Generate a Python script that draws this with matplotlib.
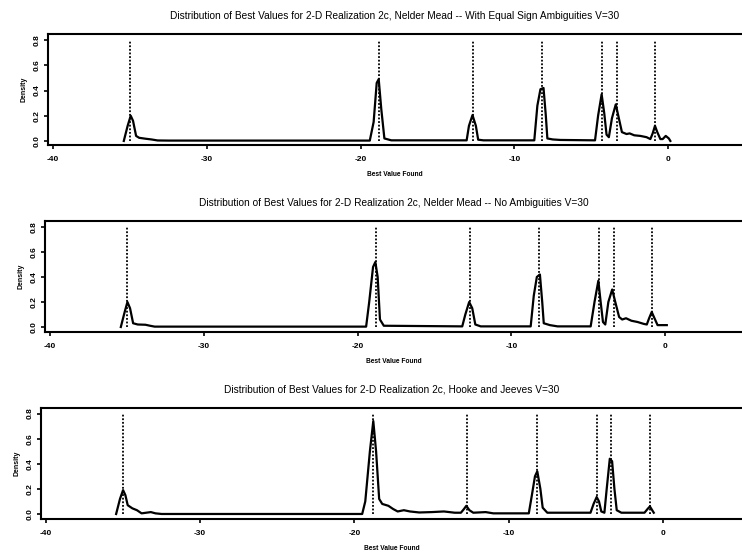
import matplotlib
matplotlib.use("Agg")
import matplotlib.pyplot as plt

plt.rcParams["font.family"] = ["Liberation Sans", "DejaVu Sans"]

# local minima of the objective (dotted lines), same for all three runs
minima = [-35.0, -18.8, -12.7, -8.2, -4.3, -3.35, -0.85]
line_top = 0.8

titles = [
    "Distribution of Best Values for 2-D Realization 2c, Nelder Mead -- With Equal Sign Ambiguities V=30",
    "Distribution of Best Values for 2-D Realization 2c, Nelder Mead -- No Ambiguities V=30",
    "Distribution of Best Values for 2-D Realization 2c, Hooke and Jeeves V=30",
]

# density curve, Nelder Mead with equal sign ambiguities
nm_eq_x = [-35.4, -35.15, -34.95, -34.8, -34.6, -34.4, -34.0, -33.6, -33.2, -32.5,
           -19.4, -19.15, -18.95, -18.82, -18.65, -18.45, -18.0,
           -13.1, -12.95, -12.72, -12.5, -12.35, -12.0,
           -8.7, -8.5, -8.3, -8.1, -7.95, -7.85, -7.5, -7.0,
           -4.75, -4.55, -4.32, -4.15, -4.0, -3.85, -3.65, -3.4, -3.2, -3.0,
           -2.7, -2.5, -2.2, -1.8, -1.4, -1.15, -1.0, -0.85, -0.7, -0.5,
           -0.35, -0.15, 0.05, 0.15]
nm_eq_y = [0.0, 0.12, 0.20, 0.16, 0.04, 0.025, 0.018, 0.012, 0.004, 0.003,
           0.003, 0.15, 0.46, 0.49, 0.25, 0.02, 0.005,
           0.005, 0.12, 0.205, 0.12, 0.01, 0.005,
           0.005, 0.28, 0.41, 0.42, 0.20, 0.02, 0.012, 0.008,
           0.005, 0.2, 0.37, 0.22, 0.05, 0.03, 0.18, 0.29, 0.18, 0.07,
           0.055, 0.06, 0.045, 0.04, 0.03, 0.015, 0.06, 0.12, 0.07, 0.015,
           0.015, 0.04, 0.02, 0.0]

# density curve, Nelder Mead no ambiguities
nm_no_x = [-35.4, -35.15, -34.97, -34.8, -34.6, -34.3, -33.8, -33.5, -33.2,
           -19.45, -19.25, -19.0, -18.85, -18.7, -18.55, -18.3,
           -13.2, -13.0, -12.75, -12.55, -12.35, -12.0,
           -8.75, -8.55, -8.35, -8.15, -8.0, -7.9, -7.5, -7.0,
           -4.85, -4.6, -4.35, -4.2, -4.05, -3.9, -3.7, -3.45, -3.25, -3.0,
           -2.8, -2.55, -2.2, -1.8, -1.4, -1.2, -1.05, -0.88, -0.7, -0.5, 0.1]
nm_no_y = [0.0, 0.12, 0.20, 0.15, 0.03, 0.02, 0.018, 0.01, 0.003,
           0.003, 0.2, 0.48, 0.52, 0.40, 0.06, 0.01,
           0.005, 0.1, 0.2, 0.15, 0.02, 0.005,
           0.005, 0.25, 0.40, 0.42, 0.2, 0.03, 0.015, 0.005,
           0.005, 0.2, 0.37, 0.2, 0.04, 0.02, 0.2, 0.30, 0.2, 0.08,
           0.06, 0.07, 0.05, 0.04, 0.025, 0.02, 0.07, 0.12, 0.07, 0.015, 0.015]

# density curve, Hooke and Jeeves
hj_x = [-35.45, -35.2, -35.0, -34.85, -34.7, -34.4, -34.1, -33.8, -33.5, -33.2, -32.9, -32.5,
        -19.5, -19.3, -19.0, -18.78, -18.6, -18.4, -18.2, -17.8, -17.5, -17.2, -16.8, -16.4,
        -15.8, -15.0, -14.2, -13.5, -13.1, -12.9, -12.75, -12.55, -12.3, -11.5, -11.0,
        -8.7, -8.5, -8.3, -8.15, -7.95, -7.8, -7.5,
        -4.7, -4.5, -4.3, -4.15, -4.0, -3.8, -3.65, -3.45, -3.3, -3.15, -3.0, -2.7,
        -1.2, -1.0, -0.85, -0.7, -0.6]
hj_y = [0.0, 0.12, 0.19, 0.15, 0.07, 0.045, 0.03, 0.005, 0.01, 0.015, 0.005, 0.0,
        0.0, 0.1, 0.5, 0.74, 0.5, 0.12, 0.08, 0.065, 0.04, 0.02, 0.03, 0.02,
        0.012, 0.015, 0.02, 0.01, 0.01, 0.04, 0.065, 0.03, 0.01, 0.015, 0.005,
        0.005, 0.15, 0.3, 0.34, 0.2, 0.05, 0.01,
        0.01, 0.08, 0.135, 0.1, 0.02, 0.01, 0.2, 0.44, 0.42, 0.2, 0.03, 0.01,
        0.01, 0.04, 0.06, 0.03, 0.01]

curves = [(nm_eq_x, nm_eq_y), (nm_no_x, nm_no_y), (hj_x, hj_y)]

W, H = 742, 554
# pixel boxes of the three panels: left, top, bottom
boxes = [(48, 34, 145), (45, 221, 332), (41, 408, 519)]
xlims = [(-40.33, 4.81), (-40.33, 4.99), (-40.32, 5.12)]
ylims = [(-0.032, 0.848), (-0.04, 0.848), (-0.04, 0.844)]

fig = plt.figure(figsize=(W / 100, H / 100), dpi=100)

for i in range(3):
    left, top, bottom = boxes[i]
    ax = fig.add_axes([left / W, 1 - bottom / H, 1 - left / W, (bottom - top) / H])
    cx, cy = curves[i]
    ax.plot(cx, cy, color="black", lw=1.6, solid_joinstyle="round")
    ax.vlines(minima, 0, line_top, colors="black", linestyles=(0, (1, 1)), lw=1.3)
    ax.set_xlim(*xlims[i])
    ax.set_ylim(*ylims[i])
    ax.set_xticks([-40, -30, -20, -10, 0])
    ax.set_xticklabels(["-40", "-30", "-20", "-10", "0"], fontsize=6, fontweight="bold")
    ax.set_yticks([0.0, 0.2, 0.4, 0.6, 0.8])
    ax.set_yticklabels(["0.0", "0.2", "0.4", "0.6", "0.8"], fontsize=6,
                       fontweight="bold", rotation=90, va="center")
    ax.tick_params(direction="out", length=3, width=1.2)
    ax.tick_params(axis="x", pad=5)
    ax.tick_params(axis="y", pad=2)
    ax.spines["right"].set_visible(False)
    for s in ["left", "bottom", "top"]:
        ax.spines[s].set_linewidth(1.5)
    ax.set_xlabel("Best Value Found", fontsize=4.8, fontweight="bold", labelpad=6)
    ax.set_ylabel("Density", fontsize=5, fontweight="bold", labelpad=5)
    ax.set_title(titles[i], fontsize=7.3, pad=11)

fig.savefig("out.png", dpi=100)
